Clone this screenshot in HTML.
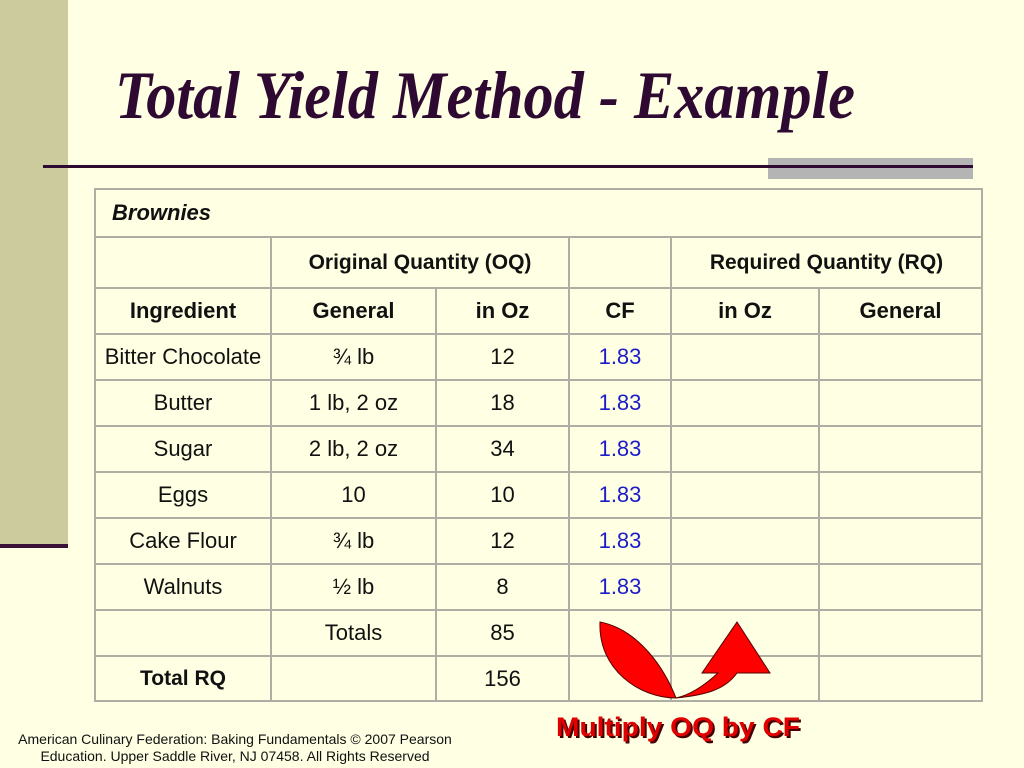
<!DOCTYPE html>
<html><head><meta charset="utf-8"><style>
body{margin:0;width:1024px;height:768px;background:#FFFFE3;position:relative;overflow:hidden;font-family:"Liberation Sans",Arial,sans-serif}
.abs{position:absolute}
table{position:absolute;left:94px;top:188px;border-collapse:collapse;table-layout:fixed}
td{border:2px solid #B0ADA4;text-align:center;font-size:22px;color:#111;padding:0;white-space:nowrap}
.b{font-weight:bold;font-size:21px}
.cf{color:#1C1CC8}
</style></head><body>
<div class="abs" style="left:0;top:0;width:68px;height:545px;background:#CCCB9E"></div>
<div class="abs" style="left:0;top:544px;width:68px;height:4px;background:#3A0F38"></div>
<svg class="abs" style="left:0;top:0" width="1024" height="160">
<text x="115" y="118" textLength="740" lengthAdjust="spacingAndGlyphs" font-family="Liberation Serif" font-weight="bold" font-style="italic" font-size="68" fill="#2E0A32">Total Yield Method - Example</text>
</svg>
<div class="abs" style="left:768px;top:158px;width:205px;height:21px;background:#B4B4B4"></div>
<div class="abs" style="left:43px;top:165px;width:930px;height:3px;background:#2E0A32"></div>
<table>
<colgroup><col style="width:176px"><col style="width:165px"><col style="width:133px"><col style="width:102px"><col style="width:148px"><col style="width:163px"></colgroup>
<tr style="height:48px"><td colspan="6" class="b" style="text-align:left;padding-left:16px;font-style:italic;font-size:22px">Brownies</td></tr>
<tr style="height:51px"><td></td><td colspan="2" class="b">Original Quantity (OQ)</td><td></td><td colspan="2" class="b">Required Quantity (RQ)</td></tr>
<tr style="height:46px" class="b"><td>Ingredient</td><td>General</td><td>in Oz</td><td>CF</td><td>in Oz</td><td>General</td></tr>
<tr style="height:46px"><td>Bitter Chocolate</td><td>¾ lb</td><td>12</td><td class="cf">1.83</td><td></td><td></td></tr>
<tr style="height:46px"><td>Butter</td><td>1 lb, 2 oz</td><td>18</td><td class="cf">1.83</td><td></td><td></td></tr>
<tr style="height:46px"><td>Sugar</td><td>2 lb, 2 oz</td><td>34</td><td class="cf">1.83</td><td></td><td></td></tr>
<tr style="height:46px"><td>Eggs</td><td>10</td><td>10</td><td class="cf">1.83</td><td></td><td></td></tr>
<tr style="height:46px"><td>Cake Flour</td><td>¾ lb</td><td>12</td><td class="cf">1.83</td><td></td><td></td></tr>
<tr style="height:46px"><td>Walnuts</td><td>½ lb</td><td>8</td><td class="cf">1.83</td><td></td><td></td></tr>
<tr style="height:46px"><td></td><td>Totals</td><td>85</td><td></td><td></td><td></td></tr>
<tr style="height:45px"><td class="b">Total RQ</td><td></td><td>156</td><td></td><td></td><td></td></tr>
</table>
<svg class="abs" style="left:0;top:0" width="1024" height="768">
<path d="M600,622 C640,630 665,670 676,698 C640,698 598,670 600,622 Z" fill="#F00" stroke="#500" stroke-width="1"/>
<path d="M676,698 C705,695 725,690 737,673 L770,673 L737,622 L702,673 L718,673 C705,685 690,695 676,698 Z" fill="#F00" stroke="#500" stroke-width="1"/>
<text x="556" y="736" textLength="244" lengthAdjust="spacingAndGlyphs" font-family="Liberation Sans" font-weight="bold" font-size="27" fill="#400" transform="translate(2,2)">Multiply OQ by CF</text>
<text x="556" y="736" textLength="244" lengthAdjust="spacingAndGlyphs" font-family="Liberation Sans" font-weight="bold" font-size="27" fill="#E00000">Multiply OQ by CF</text>
</svg>
<div class="abs" style="left:0;top:731px;width:470px;text-align:center;font-size:14px;line-height:17px;color:#111">American Culinary Federation: Baking Fundamentals © 2007 Pearson<br>Education. Upper Saddle River, NJ 07458. All Rights Reserved</div>
</body></html>
